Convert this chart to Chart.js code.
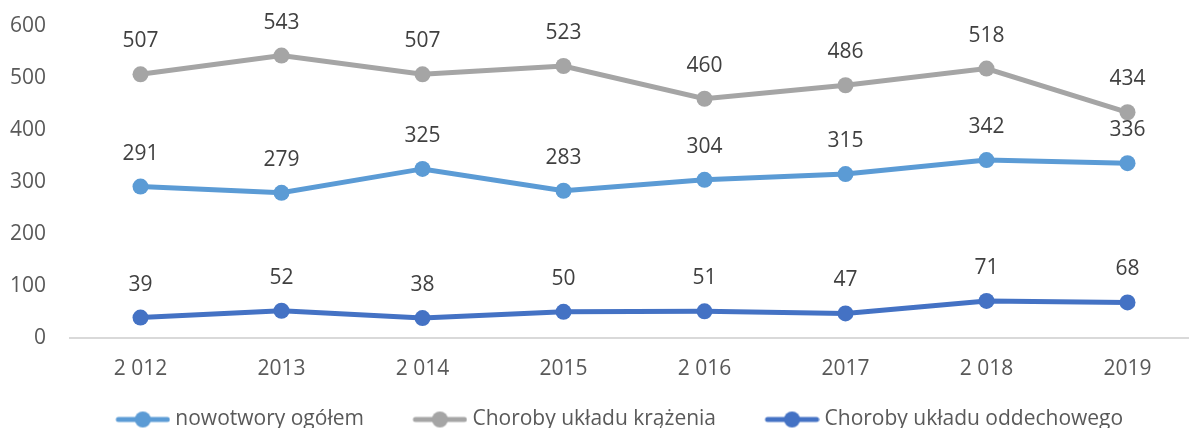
<!DOCTYPE html>
<html>
<head>
<meta charset="utf-8">
<script src="https://cdn.jsdelivr.net/npm/chart.js@4"></script>
<style>
  html, body { margin: 0; padding: 0; background: #fff; overflow: hidden; }
  #wrap { width: 1198px; height: 440px; }
</style>
</head>
<body>
<div id="wrap"><canvas id="chart"></canvas></div>
<script>
const years = ["2 012", "2013", "2 014", "2015", "2 016", "2017", "2 018", "2019"];
const nowotwory = [291, 279, 325, 283, 304, 315, 342, 336];
const krazenia = [507, 543, 507, 523, 460, 486, 518, 434];
const oddechowe = [39, 52, 38, 50, 51, 47, 71, 68];
const yTicks = [0, 100, 200, 300, 400, 500, 600];

const colors = ["#5b9bd5", "#a5a5a5", "#4472c4"];
const FONT = "'Open Sans'";

// legend marker: line with a dot, drawn at the right end of a wider transparent image
// (the empty left part gives the spacing between legend items)
function marker(color) {
  const c = document.createElement("canvas");
  c.width = 101; c.height = 18;
  const g = c.getContext("2d");
  g.strokeStyle = color;
  g.lineWidth = 5;
  g.lineCap = "round";
  g.beginPath(); g.moveTo(49, 9); g.lineTo(98, 9); g.stroke();
  g.fillStyle = color;
  g.beginPath(); g.arc(73.5, 9, 8, 0, Math.PI * 2); g.fill();
  return c;
}

const valueLabels = {
  id: "valueLabels",
  afterDatasetsDraw(chart) {
    const ctx = chart.ctx;
    ctx.save();
    ctx.font = "21px " + FONT;
    ctx.fillStyle = "#404040";
    ctx.textAlign = "center";
    ctx.textBaseline = "middle";
    chart.data.datasets.forEach((ds, i) => {
      chart.getDatasetMeta(i).data.forEach((pt, j) => {
        ctx.fillText(ds.data[j], pt.x, pt.y - 33);
      });
    });
    ctx.restore();
  }
};

function ds(label, data, color) {
  return {
    label: label,
    data: data,
    borderColor: color,
    backgroundColor: color,
    borderWidth: 5,
    pointRadius: 8,
    pointHoverRadius: 8,
    pointBorderWidth: 0,
    pointStyle: "circle",
    tension: 0,
    clip: false
  };
}

new Chart(document.getElementById("chart"), {
  type: "line",
  data: {
    labels: years,
    datasets: [
      ds("nowotwory ogółem", nowotwory, colors[0]),
      ds("Choroby układu krążenia", krazenia, colors[1]),
      ds("Choroby układu oddechowego", oddechowe, colors[2])
    ]
  },
  options: {
    responsive: true,
    maintainAspectRatio: false,
    animation: false,
    layout: { autoPadding: false, padding: { top: 26, right: 0, left: 0, bottom: 0 } },
    plugins: {
      tooltip: { enabled: false },
      legend: {
        position: "bottom",
        labels: {
          usePointStyle: true,
          pointStyleWidth: 90,
          padding: 8,
          color: "#595959",
          font: { family: FONT, size: 21 },
          generateLabels(chart) {
            return chart.data.datasets.map((d, i) => ({
              text: d.label,
              pointStyle: marker(colors[i]),
              fillStyle: colors[i],
              strokeStyle: colors[i],
              lineWidth: 0,
              fontColor: "#595959",
              datasetIndex: i
            }));
          }
        }
      }
    },
    scales: {
      x: {
        offset: true,
        grid: { display: false, drawTicks: false },
        border: { display: true, color: "#d9d9d9", width: 2 },
        ticks: { color: "#595959", font: { family: FONT, size: 21 }, padding: 19, maxRotation: 0 }
      },
      y: {
        min: 0,
        max: 600,
        afterBuildTicks(axis) { axis.ticks = yTicks.map(v => ({ value: v })); },
        afterFit(axis) { axis.width = 70; axis.paddingTop = 0; axis.paddingBottom = 0; },
        grid: { display: false, drawTicks: false },
        border: { display: false },
        ticks: { color: "#595959", font: { family: FONT, size: 21 }, padding: 24 }
      }
    }
  },
  plugins: [valueLabels]
});
</script>
</body>
</html>
